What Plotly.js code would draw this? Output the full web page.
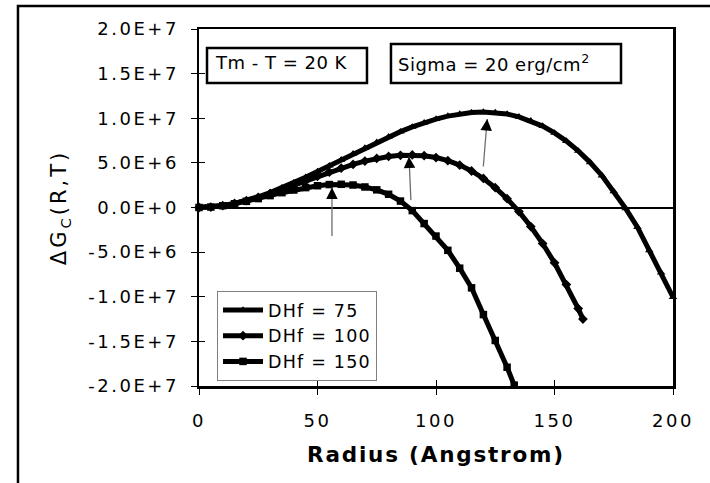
<!DOCTYPE html>
<html><head><meta charset="utf-8">
<script src="https://cdn.plot.ly/plotly-3.0.1.min.js"></script>
<style>
html,body{margin:0;padding:0;background:#fff;}
#chart{width:710px;height:483px;}
.xtick text, .ytick text { letter-spacing: 2.5px; }
.ytitle { letter-spacing: 3px; }
.xtitle { letter-spacing: 1.8px; }
.annotation-text { letter-spacing: 0.5px; }
.legendtext { letter-spacing: 1.2px; }
</style></head><body><div id="chart"></div>
<script>
// ---- data ----
const radius75  = [0,5,10,15,20,25,30,35,40,45,50,55,60,65,70,75,80,85,90,95,100,105,110,115,120,125,130,135,140,145,150,155,160,165,170,175,180,185,190,195,200];
const dhf75     = [0,5.4e4,2.1e5,4.6e5,7.9e5,1.2e6,1.67e6,2.2e6,2.78e6,3.39e6,4.03e6,4.68e6,5.35e6,6.02e6,6.68e6,7.32e6,7.93e6,8.5e6,9.03e6,9.5e6,9.91e6,1.024e7,1.049e7,1.065e7,1.07e7,1.065e7,1.047e7,1.016e7,9.71e6,9.12e6,8.36e6,7.44e6,6.34e6,5.06e6,3.58e6,1.8e6,-1e5,-2.2e6,-4.8e6,-7.3e6,-1.005e7];
const radius100 = [0,5,10,15,20,25,30,35,40,45,50,55,60,65,70,75,80,85,90,95,100,105,110,115,120,125,130,135,140,145,150,155,160,162];
const dhf100    = [0,5.4e4,2.1e5,4.5e5,7.6e5,1.13e6,1.56e6,2.02e6,2.5e6,2.99e6,3.49e6,3.97e6,4.42e6,4.83e6,5.2e6,5.5e6,5.72e6,5.85e6,5.89e6,5.8e6,5.6e6,5.25e6,4.75e6,4.09e6,3.25e6,2.22e6,9.9e5,-4.6e5,-2.13e6,-4.04e6,-6.2e6,-8.63e6,-1.133e7,-1.25e7];
const radius150 = [0,5,10,15,20,25,30,35,40,45,50,55,60,65,70,75,80,85,90,95,100,105,110,115,120,125,130,133];
const dhf150    = [0,5.3e4,2.0e5,4.2e5,6.9e5,1.0e6,1.33e6,1.66e6,1.96e6,2.23e6,2.44e6,2.57e6,2.6e6,2.52e6,2.3e6,1.98e6,1.48e6,7.2e5,-3.5e5,-1.8e6,-3.2e6,-4.8e6,-6.8e6,-9.0e6,-1.2e7,-1.49e7,-1.79e7,-1.99e7];
const seriesNames = ["DHf = 75","DHf = 100","DHf = 150"];
const xTickVals = [0,50,100,150,200];
const yTickVals = [-2e7,-1.5e7,-1e7,-5e6,0,5e6,1e7,1.5e7,2e7];
const yTickText = ["-2.0E+7","-1.5E+7","-1.0E+7","-5.0E+6","0.0E+0","5.0E+6","1.0E+7","1.5E+7","2.0E+7"];
const noteTemp  = "Tm - T = 20 K";
const noteSigma = "Sigma = 20 erg/cm<sup>2</sup>";
const peakArrows = [ {x:56.1, y:2.23e6, ax:0, ay:50}, {x:88.6, y:5.7e6, ax:2, ay:45}, {x:121.6, y:9.91e6, ax:-4, ay:49} ];

const FONT = "DejaVu Sans, Verdana, sans-serif";
function mk(x, y, name, sym){
  return {x:x, y:y, name:name, type:'scatter', mode:'lines+markers',
    line:{color:'#000', width:5}, marker:{symbol:sym, size:7.5, color:'#000'},
    cliponaxis:false, hoverinfo:'skip'};
}
const traces = [
  mk(radius75, dhf75, seriesNames[0], 'triangle-up'),
  mk(radius100, dhf100, seriesNames[1], 'diamond'),
  mk(radius150, dhf150, seriesNames[2], 'square'),
  {x:[], y:[], xaxis:'x2', yaxis:'y2', showlegend:false, hoverinfo:'skip', type:'scatter', mode:'lines'}
];

const annotations = [];
peakArrows.forEach(a => {
  annotations.push({x:a.x, y:a.y, xref:'x', yref:'y', ax:a.ax, ay:a.ay, text:'', showarrow:true,
    arrowhead:0, arrowwidth:1.3, arrowcolor:'#6e6e6e'});
  const L = Math.hypot(a.ax, a.ay);
  annotations.push({x:a.x, y:a.y, xref:'x', yref:'y', ax:a.ax/L*11, ay:a.ay/L*11, text:'', showarrow:true,
    arrowhead:2, arrowwidth:1, arrowsize:2.3, arrowcolor:'#000'});
});
annotations.push({text:noteTemp, xref:'paper', yref:'paper', x:0.0295, y:0.905, xanchor:'left', yanchor:'middle',
  showarrow:false, font:{family:FONT, size:18, color:'#000'}});
annotations.push({text:noteSigma, xref:'paper', yref:'paper', x:0.4156, y:0.905, xanchor:'left', yanchor:'middle',
  showarrow:false, font:{family:FONT, size:18, color:'#000'}});

const shapes = [
  {type:'rect', xref:'paper', yref:'paper', x0:-0.3819, x1:1.3, y0:-0.6, y1:1.0644, line:{color:'#000', width:2.5}},
  {type:'rect', xref:'paper', yref:'paper', x0:0.0169, x1:0.3544, y0:0.8487, y1:0.9468, line:{color:'#000', width:2.5}, fillcolor:'rgba(0,0,0,0)'},
  {type:'rect', xref:'paper', yref:'paper', x0:0.405, x1:0.8903, y0:0.8487, y1:0.958, line:{color:'#000', width:2.5}, fillcolor:'rgba(0,0,0,0)'}
];

const axBase = {showgrid:false, ticks:'outside', ticklen:6, tickwidth:1, tickcolor:'#000',
  showline:true, linecolor:'#000', linewidth:2.5, mirror:true,
  tickfont:{family:FONT, size:18, color:'#000'}};

const layout = {
  width:710, height:483,
  margin:{l:199, r:37, t:29, b:97},
  paper_bgcolor:'#fff', plot_bgcolor:'#fff',
  font:{family:FONT, color:'#000'},
  showlegend:true,
  legend:{x:0.038, y:0.266, xanchor:'left', yanchor:'top', bgcolor:'#fff', bordercolor:'#808080', borderwidth:1,
    itemwidth:40, tracegroupgap:0, font:{family:FONT, size:17.5, color:'#000'}},
  xaxis:Object.assign({}, axBase, {range:[0,200], tickvals:xTickVals, zeroline:false, ticklabelstandoff:11,
    title:{text:'Radius (Angstrom)', font:{family:FONT, size:21.5, color:'#000', weight:'bold'}, standoff:17}}),
  yaxis:Object.assign({}, axBase, {range:[-2e7,2e7], tickvals:yTickVals, ticktext:yTickText,
    zeroline:true, zerolinecolor:'#000', zerolinewidth:2, ticklabelstandoff:8,
    title:{text:'ΔG<sub>C</sub>(R,T)', font:{family:FONT, size:21, color:'#000'}, standoff:16}}),
  xaxis2:{overlaying:'x', anchor:'y2', side:'bottom', range:[0,200], tickvals:xTickVals, ticks:'inside', ticklen:6, tickwidth:1, tickcolor:'#000',
    showticklabels:false, showgrid:false, zeroline:false, showline:false},
  yaxis2:{overlaying:'y', anchor:'x2', side:'left', range:[-2e7,2e7], tickvals:yTickVals, ticks:'inside', ticklen:6, tickwidth:1, tickcolor:'#000',
    showticklabels:false, showgrid:false, zeroline:false, showline:false},
  annotations:annotations,
  shapes:shapes
};
Plotly.newPlot('chart', traces, layout, {staticPlot:true, displayModeBar:false});
</script></body></html>
